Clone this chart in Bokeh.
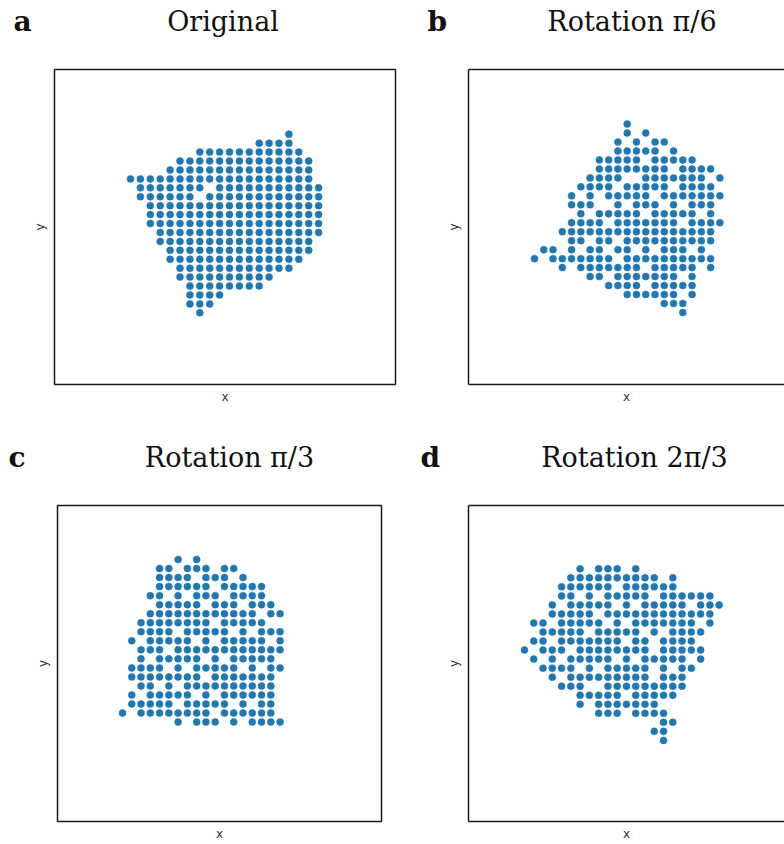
from bokeh.plotting import figure
from bokeh.layouts import column, row
from bokeh.models import LinearAxis, FixedTicker, Range1d
from bokeh.core.properties import value
from bokeh.embed import file_html
from bokeh.resources import INLINE

# ---- data: grid positions of spots, row by row (top row first) ----
a_row_y = [20, 19, 18, 17, 16, 15, 14, 13, 12, 11, 10, 9, 8, 7, 6, 5, 4, 3, 2, 1, 0]
a_row_x = [
    [16],
    [13, 14, 15, 16],
    [7, 8, 9, 10, 11, 12, 13, 14, 15, 16, 17],
    [5, 6, 7, 8, 9, 10, 11, 12, 13, 14, 15, 16, 17, 18],
    [4, 5, 6, 7, 8, 9, 10, 11, 12, 13, 14, 15, 16, 17, 18],
    [0, 1, 2, 3, 4, 5, 6, 7, 8, 9, 10, 11, 12, 13, 14, 15, 16, 17, 18],
    [1, 2, 3, 4, 5, 6, 7, 9, 10, 11, 12, 13, 14, 15, 16, 17, 18, 19],
    [1, 2, 3, 4, 5, 6, 8, 9, 10, 11, 12, 13, 14, 15, 16, 17, 18, 19],
    [2, 3, 4, 5, 6, 7, 8, 9, 10, 11, 12, 13, 14, 15, 16, 17, 18, 19],
    [2, 3, 4, 5, 6, 7, 8, 9, 10, 11, 12, 13, 14, 15, 16, 17, 18, 19],
    [2, 3, 4, 5, 6, 7, 8, 9, 10, 11, 12, 13, 14, 15, 16, 17, 18, 19],
    [3, 4, 5, 6, 7, 8, 9, 10, 11, 12, 13, 14, 15, 16, 17, 18, 19],
    [3, 4, 5, 6, 7, 8, 9, 10, 11, 12, 13, 14, 15, 16, 17, 18],
    [4, 5, 6, 7, 8, 9, 10, 11, 12, 13, 14, 15, 16, 17, 18],
    [4, 5, 6, 7, 8, 9, 10, 11, 12, 13, 14, 15, 16, 17],
    [5, 6, 7, 8, 9, 10, 11, 12, 13, 14, 15, 16],
    [5, 6, 7, 8, 9, 10, 11, 12, 13, 14],
    [6, 7, 8, 9, 10, 11, 12, 13],
    [6, 7, 8, 9],
    [6, 7, 8],
    [7],
]

b_row_y = [21, 20, 19, 18, 17, 16, 15, 14, 13, 12, 11, 10, 9, 8, 7, 6, 5, 4, 3, 2, 1, 0]
b_row_x = [
    [10],
    [10, 12],
    [9, 11, 13, 14],
    [9, 10, 11, 12, 13, 15],
    [7, 8, 9, 10, 11, 13, 14, 15, 16, 17],
    [7, 8, 9, 10, 11, 12, 13, 14, 16, 17, 18, 19],
    [6, 7, 8, 9, 12, 13, 14, 15, 16, 17, 18, 20],
    [5, 6, 7, 8, 10, 11, 12, 13, 14, 16, 17, 18, 19],
    [4, 6, 8, 9, 10, 11, 12, 14, 15, 16, 17, 18, 19, 20],
    [4, 5, 6, 9, 11, 12, 13, 15, 17, 18, 19],
    [5, 7, 8, 9, 10, 11, 13, 14, 15, 16, 17, 19],
    [4, 5, 6, 7, 9, 10, 11, 12, 13, 14, 15, 17, 18, 19, 20],
    [3, 4, 5, 6, 7, 8, 9, 10, 11, 12, 13, 14, 15, 16, 17, 18, 19],
    [4, 5, 7, 8, 10, 11, 12, 13, 14, 15, 16, 17, 18, 19],
    [1, 2, 4, 6, 7, 9, 10, 12, 14, 15, 16, 18],
    [0, 2, 3, 4, 5, 6, 7, 8, 10, 11, 12, 13, 14, 15, 16, 17, 18, 19],
    [3, 5, 6, 7, 8, 9, 10, 11, 13, 14, 15, 16, 17, 19],
    [6, 7, 9, 10, 11, 12, 13, 14, 15, 17],
    [8, 9, 10, 11, 13, 14, 15, 16, 17],
    [10, 11, 12, 13, 14, 15, 17],
    [14, 15, 16],
    [16],
]

c_row_y = [18, 17, 16, 15, 14, 13, 12, 11, 10, 9, 8, 7, 6, 5, 4, 3, 2, 1, 0]
c_row_x = [
    [6, 8],
    [4, 5, 7, 8, 9, 11, 12],
    [4, 5, 6, 7, 9, 10, 11, 13],
    [4, 5, 6, 7, 8, 9, 11, 12, 13, 14, 15],
    [3, 4, 6, 8, 9, 10, 12, 13, 14, 15],
    [4, 5, 6, 7, 8, 10, 11, 12, 14, 15, 16],
    [3, 4, 5, 6, 7, 8, 9, 10, 11, 12, 13, 14, 16, 17],
    [2, 3, 4, 5, 6, 7, 8, 9, 11, 12, 13, 14, 15],
    [2, 3, 4, 5, 7, 8, 9, 10, 11, 13, 15, 16, 17],
    [1, 3, 4, 5, 6, 7, 9, 11, 12, 13, 14, 15, 17],
    [2, 3, 4, 6, 7, 8, 9, 10, 11, 12, 13, 14, 15, 16, 17],
    [2, 4, 5, 6, 7, 8, 10, 12, 13, 14, 15, 16],
    [1, 2, 3, 4, 6, 8, 9, 10, 11, 12, 14, 16, 17],
    [1, 2, 3, 4, 5, 6, 7, 8, 10, 11, 12, 13, 14, 15, 16],
    [2, 3, 5, 7, 8, 9, 10, 11, 12, 13, 14, 15, 16],
    [1, 3, 4, 5, 6, 7, 9, 11, 12, 13, 14, 15, 16],
    [1, 2, 3, 4, 5, 7, 8, 9, 10, 11, 13, 15, 16],
    [0, 2, 3, 4, 5, 6, 7, 8, 9, 11, 12, 13, 14, 15, 16],
    [6, 8, 9, 10, 12, 14, 15, 16, 17],
]

d_row_y = [19, 18, 17, 16, 15, 14, 13, 12, 11, 10, 9, 8, 7, 6, 5, 4, 3, 2, 1, 0]
d_row_x = [
    [6, 8, 9, 10, 12],
    [5, 6, 7, 8, 9, 10, 11, 12, 13, 14, 16],
    [4, 5, 6, 7, 8, 9, 11, 12, 13, 14, 15, 16],
    [4, 5, 7, 9, 10, 11, 12, 13, 15, 16, 17, 18, 19, 20],
    [3, 5, 6, 7, 8, 9, 11, 13, 14, 15, 16, 17, 19, 20, 21],
    [3, 4, 5, 6, 7, 9, 10, 11, 12, 13, 14, 15, 16, 17, 18, 19, 20],
    [1, 2, 4, 5, 6, 7, 8, 10, 12, 13, 14, 15, 16, 17, 18, 20],
    [2, 3, 4, 5, 6, 8, 9, 10, 11, 12, 14, 16, 17, 18, 19],
    [1, 2, 4, 5, 6, 7, 8, 9, 10, 12, 13, 15, 16, 17, 18],
    [0, 2, 3, 4, 6, 7, 8, 9, 10, 11, 12, 13, 15, 16, 17, 18, 19],
    [1, 3, 5, 6, 7, 8, 9, 11, 13, 14, 15, 16, 17, 19],
    [2, 3, 4, 5, 7, 9, 10, 11, 12, 13, 15, 17, 18],
    [3, 5, 6, 7, 8, 9, 10, 11, 12, 13, 15, 16, 17],
    [4, 5, 6, 9, 10, 11, 12, 13, 14, 15, 16, 17],
    [6, 7, 8, 9, 10, 12, 13, 14, 15, 16],
    [6, 8, 9, 10, 11, 12, 13, 14],
    [8, 9, 10, 12, 13, 14, 15],
    [15, 16],
    [14, 15],
    [15],
]

titles = ["Original", "Rotation \u03c0/6", "Rotation \u03c0/3", "Rotation 2\u03c0/3"]
letters = ["a", "b", "c", "d"]

DOT = "#1f77b4"
EDGE = "#1a1a1a"


def flatten(row_x, row_y):
    xs, ys = [], []
    for yv, xrow in zip(row_y, row_x):
        for xv in xrow:
            xs.append(xv)
            ys.append(yv)
    return xs, ys


def style_axis(ax, label, standoff, line):
    ax.ticker = FixedTicker(ticks=[])
    ax.major_tick_out = 0
    ax.major_tick_in = 0
    ax.minor_tick_out = 0
    ax.minor_tick_in = 0
    ax.major_label_standoff = 0
    ax.major_label_text_font_size = "0px"
    ax.axis_label = label
    ax.axis_label_standoff = standoff
    ax.axis_label_text_font = "DejaVu Sans"
    ax.axis_label_text_font_size = "12px"
    ax.axis_label_text_font_style = "normal"
    ax.axis_label_text_color = "#333333"
    if line:
        ax.axis_line_color = EDGE
        ax.axis_line_width = 1.5
    else:
        ax.axis_line_color = None


def panel(row_x, row_y, xr, yr, width, height, mb, open_right):
    p = figure(width=width, height=height, x_range=Range1d(*xr), y_range=Range1d(*yr),
               output_backend="svg", toolbar_location=None,
               min_border_left=mb[0], min_border_right=mb[1],
               min_border_top=mb[2], min_border_bottom=mb[3])
    p.grid.visible = False
    p.background_fill_color = "white"
    p.border_fill_color = "white"

    style_axis(p.below[0], "x", 5, open_right)
    style_axis(p.left[0], "y", 8, open_right)
    if open_right:
        top = LinearAxis()
        p.add_layout(top, "above")
        style_axis(top, None, 0, True)
        p.outline_line_color = None
    else:
        p.outline_line_color = EDGE
        p.outline_line_width = 1.5
        p.outline_line_alpha = 1.0

    xs, ys = flatten(row_x, row_y)
    p.scatter(xs, ys, size=7, fill_color=DOT, line_color=DOT, line_width=0.5)
    return p


def header(height, baseline, title_pair, letter_pair, title_cx, letter_lx):
    h = figure(width=784, height=height, x_range=Range1d(0, 784), y_range=Range1d(height, 0),
               output_backend="svg", toolbar_location=None,
               x_axis_location=None, y_axis_location=None,
               min_border_left=0, min_border_right=0, min_border_top=0, min_border_bottom=0)
    h.grid.visible = False
    h.outline_line_color = None
    h.text(x=title_cx, y=[baseline, baseline], text=title_pair,
           text_align="center", text_baseline="middle",
           text_font=value("DejaVu Serif"), text_font_size="27px", text_color="#111111")
    h.text(x=letter_lx, y=[baseline, baseline], text=letter_pair,
           text_align="left", text_baseline="middle",
           text_font=value("DejaVu Serif"), text_font_style="bold",
           text_font_size="28px", text_color="#111111")
    return h


h1 = header(52, 21, titles[0:2], letters[0:2], [222.5, 631.5], [13, 427])
h2 = header(62, 27, titles[2:4], letters[2:4], [229, 634], [8, 420])

pa = panel(a_row_x, a_row_y, (-7.68, 26.77), (-8.03, 27.25), 430, 378, (54, 35, 17, 46), False)
pb = panel(b_row_x, b_row_y, (-7.12, 26.97), (-8.03, 27.08), 354, 378, (38, 0, 17, 45), True)
pc = panel(c_row_x, c_row_y, (-7.01, 27.94), (-11.01, 23.98), 430, 352, (57, 49, 13, 23), False)
pd = panel(d_row_x, d_row_y, (-6.04, 28.05), (-8.98, 26.01), 354, 352, (38, 0, 13, 23), True)

layout = column(h1, row(pa, pb), h2, row(pc, pd))
open("out.html", "w").write(file_html(layout, INLINE))
